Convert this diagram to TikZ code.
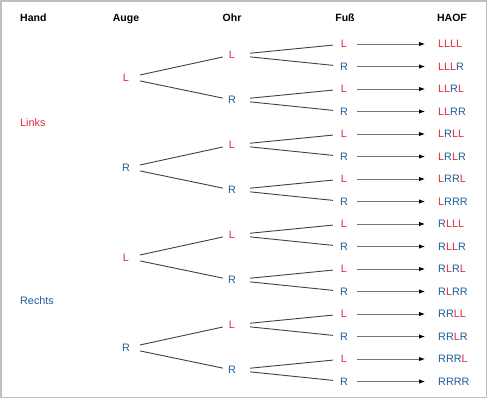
\documentclass[tikz,border=0pt]{standalone}
\usepackage{fontspec}
\setmainfont{Liberation Sans}
\usetikzlibrary{arrows.meta}
\definecolor{rot}{RGB}{228,38,56}
\definecolor{blau}{RGB}{31,92,153}
\newcommand{\seite}[1]{\ifnum#1=0 \textcolor{rot}{L}\else\textcolor{blau}{R}\fi}

\begin{document}
\begin{tikzpicture}[
			x = 1pt, y = -1pt,
			every node/.style = {font=\fontsize{10.8}{13}\selectfont, inner sep=0pt, minimum width=14pt},
			kopf/.style = {font=\fontsize{10.5}{13}\selectfont\bfseries, anchor=base},
			ast/.style = {draw=black!75, line width=0.9pt},
			pfeil/.style = {draw=black!55, line width=1pt, -{Latex[length=6pt,width=4.5pt,color=black]}}
			]
			\useasboundingbox (0,0) rectangle (488,400);
			\draw[black!25, line width=1.2pt] (1,1) rectangle (486.5,397.5);

			% Kopfzeile
			\node[kopf, anchor=base west] (hand) at (20,21) {Hand};
			\node[kopf] (auge) at (126,21) {Auge};
			\node[kopf] (ohr) at (232,21) {Ohr};
			\node[kopf] (fuss) at (345,21) {Fuß};
			\node[kopf] (haof) at (452,21) {HAOF};

			\node[anchor=west, text=rot] (links) at (20,123) {Links};
			\node[anchor=west, text=blau] (rechts) at (20,301) {Rechts};

			\foreach \i in {0,...,3} {
				\pgfmathtruncatemacro{\b}{mod(\i,2)}
				\node (auge\i) at (126,78+90*\i) {\seite{\b}};
			}

			\foreach \j in {0,...,7} {
				\pgfmathtruncatemacro{\b}{mod(\j,2)}
				\pgfmathtruncatemacro{\p}{div(\j,2)}
				\node (ohr\j) at (232,55+45*\j) {\seite{\b}};
				\draw[ast, shorten <=7pt, shorten >=2pt] (auge\p) -- (ohr\j);
			}

			\foreach \k in {0,...,15} {
				\pgfmathtruncatemacro{\b}{mod(\k,2)}
				\pgfmathtruncatemacro{\p}{div(\k,2)}
				\pgfmathtruncatemacro{\h}{div(\k,8)}
				\pgfmathtruncatemacro{\a}{mod(div(\k,4),2)}
				\pgfmathtruncatemacro{\o}{mod(div(\k,2),2)}
				\node (fuss\k) at (344,44+22.5*\k) {\seite{\b}};
				\draw[ast, shorten <=11pt, shorten >=4pt] (ohr\p) -- (fuss\k);
				\node[anchor=west] (haof\k) at (438,44+22.5*\k) {\seite{\h}\seite{\a}\seite{\o}\seite{\b}};
				\draw[pfeil, shorten <=6pt, shorten >=13pt] (fuss\k) -- (haof\k);
			}
		\end{tikzpicture}
\end{document}
